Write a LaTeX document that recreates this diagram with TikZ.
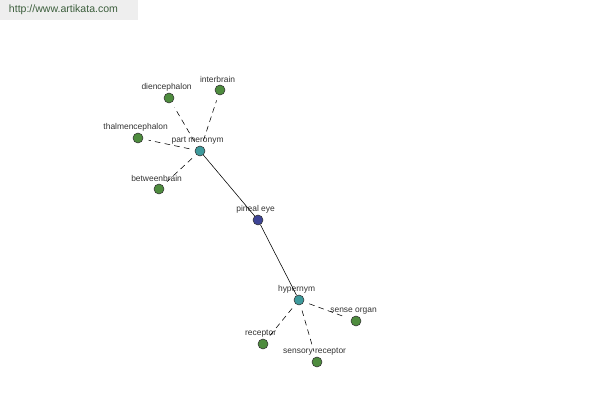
\documentclass[tikz,border=0pt]{standalone}
\usepackage{fontspec}
\setmainfont{Liberation Sans}
\definecolor{LeafGreen}{HTML}{4E8C3E}
\definecolor{HubTeal}{HTML}{3E9A9C}
\definecolor{RootBlue}{HTML}{3E4496}
\definecolor{EdgeGray}{HTML}{333333}
\definecolor{BannerGray}{HTML}{EEEEEE}
\definecolor{BannerText}{HTML}{3C5E3C}
\usetikzlibrary{positioning}

\begin{document}
\begin{tikzpicture}[
x=0.025cm,y=-0.025cm,
dot/.style={circle,draw=EdgeGray,thin,inner sep=0pt,minimum size=0.25cm,label={[font=\fontsize{6}{7}\selectfont,text=black!80,inner sep=1pt,xshift=-0.06cm]above:#1}},
leaf/.style={dot=#1,fill=LeafGreen},
hub/.style={dot=#1,fill=HubTeal},
root/.style={dot=#1,fill=RootBlue},
solidlink/.style={draw=black,thin},
dashlink/.style={draw=black,thin,dashed,dash pattern=on 4pt off 3pt,shorten <=4pt,shorten >=4pt}
]
\useasboundingbox (0,0) rectangle (600,400);
\fill[BannerGray] (0,0) rectangle (138,20);
\node[anchor=west,text=BannerText,font=\fontsize{7.5}{9}\selectfont] (site) at (4,10) {http://www.artikata.com};

\node[root=pineal eye] (pineal) at (258,220) {};
\node[hub=part meronym] (meronym) at (200,151) {};
\node[hub=hypernym] (hypernym) at (299,300) {};

\node[leaf=diencephalon] (dien) at (169,98) {};
\node[leaf=interbrain] (inter) at (220,90) {};
\node[leaf=thalmencephalon] (thal) at (138,138) {};
\node[leaf=betweenbrain] (between) at (159,189) {};
\node[leaf=sense organ] (organ) at (356,321) {};
\node[leaf=receptor] (recep) at (263,344) {};
\node[leaf=sensory receptor] (sensory) at (317,362) {};

\draw[solidlink] (pineal) -- (meronym);
\draw[solidlink] (pineal) -- (hypernym);
\draw[dashlink] (meronym) -- (dien);
\draw[dashlink] (meronym) -- (inter);
\draw[dashlink] (meronym) -- (thal);
\draw[dashlink] (meronym) -- (between);
\draw[dashlink] (hypernym) -- (organ);
\draw[dashlink] (hypernym) -- (recep);
\draw[dashlink] (hypernym) -- (sensory);
\end{tikzpicture}
\end{document}
